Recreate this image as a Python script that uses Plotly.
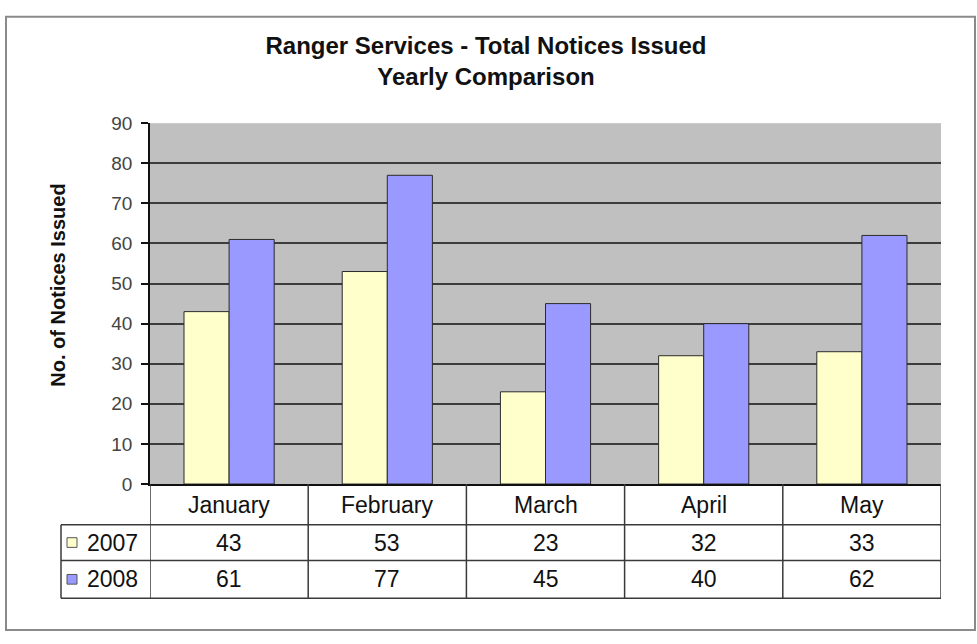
import plotly.graph_objects as go

# Monthly totals of notices issued
months = ["January", "February", "March", "April", "May"]
notices_2007 = [43, 53, 23, 32, 33]
notices_2008 = [61, 77, 45, 40, 62]
series_names = ["2007", "2008"]
series_colors = ["#FFFFCC", "#9999FF"]
y_ticks = [0, 10, 20, 30, 40, 50, 60, 70, 80, 90]

W, H = 977, 644
FONT = "Liberation Sans, Arial, sans-serif"
TABLE_FONT = 23


def px(x):
    return x / W


def py(y):
    return 1 - y / H


# plot-area edges in pixels
PL, PR, PT, PB = 150, 941, 117, 490
# data-table row boundaries
ROW_HEAD_BOTTOM = 532
ROW1_BOTTOM = 569
ROW2_BOTTOM = 608
LEGEND_LEFT = 61
LINE = "#3a3a3a"

fig = go.Figure()
for name, vals, col in zip(series_names, [notices_2007, notices_2008], series_colors):
    fig.add_trace(go.Bar(
        x=months, y=vals, name=name,
        marker=dict(color=col, line=dict(color="#2b2b2b", width=1)),
        hoverinfo="x+y+name",
    ))

shapes = []
annotations = []

# outer chart frame
shapes.append(dict(type="rect", xref="paper", yref="paper",
                   x0=px(6), x1=px(975), y0=py(641), y1=py(7),
                   line=dict(color="#8a8a8a", width=2), layer="below"))

# data table: horizontal rules
for yy in [ROW_HEAD_BOTTOM, ROW1_BOTTOM, ROW2_BOTTOM]:
    shapes.append(dict(type="line", xref="paper", yref="paper",
                       x0=px(LEGEND_LEFT), x1=px(PR), y0=py(yy), y1=py(yy),
                       line=dict(color=LINE, width=1.5)))
# vertical rules at category boundaries (through the x scale)
for i in range(len(months) + 1):
    shapes.append(dict(type="line", xref="x", yref="paper",
                       x0=i - 0.5, x1=i - 0.5, y0=py(ROW2_BOTTOM), y1=py(PB),
                       line=dict(color=LINE, width=1.5)))
# legend column left edge
shapes.append(dict(type="line", xref="paper", yref="paper",
                   x0=px(LEGEND_LEFT), x1=px(LEGEND_LEFT),
                   y0=py(ROW2_BOTTOM), y1=py(ROW_HEAD_BOTTOM),
                   line=dict(color=LINE, width=1.5)))

# month headers
for i, m in enumerate(months):
    annotations.append(dict(x=i, xref="x", y=py((PB + ROW_HEAD_BOTTOM) / 2 + 1), yref="paper",
                            text=m, showarrow=False, xanchor="center", yanchor="middle",
                            font=dict(family=FONT, size=TABLE_FONT, color="#111")))

row_centers = [(ROW_HEAD_BOTTOM + ROW1_BOTTOM) / 2, (ROW1_BOTTOM + ROW2_BOTTOM) / 2]
for name, vals, col, rc in zip(series_names, [notices_2007, notices_2008], series_colors, row_centers):
    # legend key square
    shapes.append(dict(type="rect", xref="paper", yref="paper",
                       x0=px(67), x1=px(77), y0=py(rc + 5), y1=py(rc - 5),
                       fillcolor=col, line=dict(color="#555", width=1)))
    annotations.append(dict(x=px(85), xref="paper", y=py(rc), yref="paper",
                            text=name, showarrow=False, xanchor="left", yanchor="middle",
                            font=dict(family=FONT, size=TABLE_FONT, color="#111")))
    for i, v in enumerate(vals):
        annotations.append(dict(x=i, xref="x", y=py(rc), yref="paper",
                                text=str(v), showarrow=False, xanchor="center", yanchor="middle",
                                font=dict(family=FONT, size=TABLE_FONT, color="#111")))

# value-axis title
annotations.append(dict(x=px(58), xref="paper", y=py(285), yref="paper",
                        text="<b>No. of Notices Issued</b>", textangle=-90, showarrow=False,
                        xanchor="center", yanchor="middle",
                        font=dict(family=FONT, size=20, color="#111")))

fig.update_layout(
    width=W, height=H, autosize=False,
    margin=dict(l=0, r=0, t=0, b=0, pad=0),
    paper_bgcolor="white", plot_bgcolor="#C0C0C0",
    barmode="group", bargap=0.43, bargroupgap=0,
    showlegend=False,
    title=dict(text="<b>Ranger Services - Total Notices Issued<br>Yearly Comparison</b>",
               x=px(486), xanchor="center", y=py(54), yanchor="middle", yref="container",
               font=dict(family=FONT, size=24, color="#111")),
    xaxis=dict(domain=[px(PL), px(PR)], showticklabels=False, ticks="",
               showgrid=False, showline=True, linecolor="#111", linewidth=1.5,
               zeroline=False, range=[-0.5, len(months) - 0.5]),
    yaxis=dict(domain=[py(PB), py(PT)], range=[0, 90], tickvals=y_ticks,
               ticks="outside", ticklen=7, tickcolor="#111", tickwidth=1.5,
               ticklabelstandoff=5,
               showline=True, linecolor="#111", linewidth=1.5,
               showgrid=True, gridcolor="#3c3c3c", gridwidth=1.5, zeroline=False,
               tickfont=dict(family=FONT, size=19, color="#444")),
    shapes=shapes, annotations=annotations,
)

fig.write_html("out.html")
